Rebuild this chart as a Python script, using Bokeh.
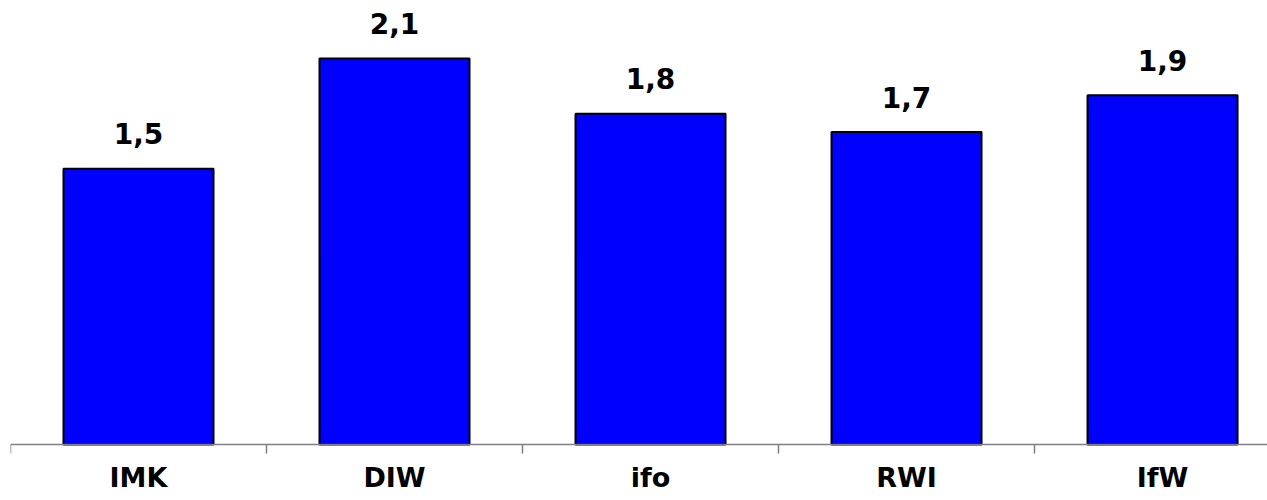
from bokeh.plotting import figure
from bokeh.models import ColumnDataSource, Range1d, FixedTicker
from bokeh.core.properties import value
from bokeh.embed import file_html
from bokeh.resources import INLINE

categories = ["IMK", "DIW", "ifo", "RWI", "IfW"]
values = [1.5, 2.1, 1.8, 1.7, 1.9]
labels = [f"{v:.1f}".replace(".", ",") for v in values]
positions = list(range(len(categories)))

src = ColumnDataSource(dict(x=positions, top=values, label=labels))

p = figure(width=1267, height=500, output_backend="svg", toolbar_location=None,
           x_range=Range1d(-0.5, 4.41), y_range=Range1d(-0.3047, 2.372),
           min_border_left=10, min_border_right=0, min_border_top=8, min_border_bottom=0)

p.vbar(x="x", top="top", width=0.586, bottom=0, source=src,
       fill_color="#0000FF", line_color="#000000", line_width=2)

p.text(x="x", y="top", text="label", source=src, y_offset=-35,
       text_align="center", text_baseline="middle",
       text_font=value("DejaVu Sans"), text_font_style="bold",
       text_font_size="28px", text_color="#000000")

p.xgrid.visible = False
p.ygrid.visible = False
p.yaxis.visible = False
p.outline_line_color = None
p.background_fill_color = "white"
p.border_fill_color = "white"

ax = p.xaxis[0]
ax.fixed_location = 0
ax.ticker = FixedTicker(ticks=positions, minor_ticks=[i - 0.5 for i in range(len(categories) + 1)])
ax.major_label_overrides = {i: c for i, c in enumerate(categories)}
ax.axis_line_color = "#808080"
ax.axis_line_width = 1.5
ax.major_tick_line_color = None
ax.major_tick_out = 0
ax.major_tick_in = 0
ax.minor_tick_line_color = "#808080"
ax.minor_tick_line_width = 1.5
ax.minor_tick_out = 9
ax.minor_tick_in = 0
ax.major_label_standoff = 9
ax.major_label_text_font = "DejaVu Sans"
ax.major_label_text_font_style = "bold"
ax.major_label_text_font_size = "27px"
ax.major_label_text_color = "#000000"

open("out.html", "w").write(file_html(p, INLINE))
